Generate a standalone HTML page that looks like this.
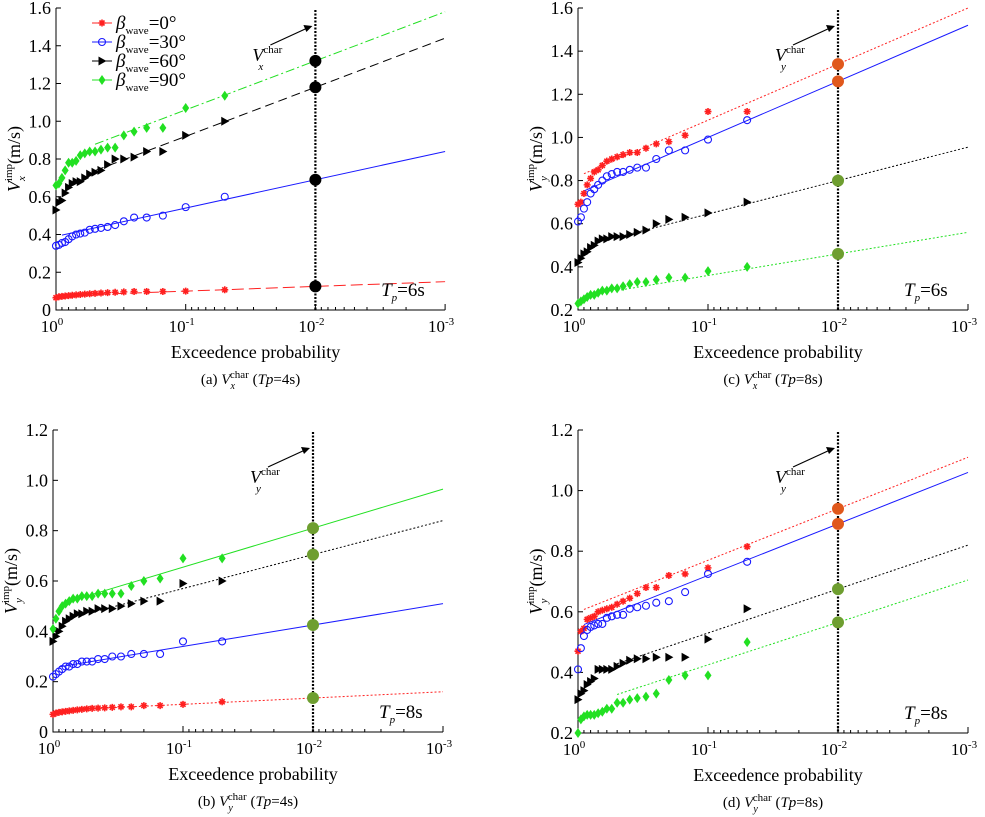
<!DOCTYPE html>
<html><head><meta charset="utf-8">
<style>
html,body{margin:0;padding:0;background:#fff;font-family:"Liberation Serif","DejaVu Serif",serif;}
svg{display:block;font-family:"Liberation Serif","DejaVu Serif",serif;}
svg text, svg tspan{font-family:"Liberation Serif","DejaVu Serif",serif !important;}
</style></head>
<body>
<svg id="fig" width="985" height="817" viewBox="0 0 985 817" xmlns="http://www.w3.org/2000/svg"></svg>
<script>
// ---- shared data ----
const probs = [1,0.95,0.9,0.85,0.8,0.75,0.7,0.65,0.6,0.55,0.5,0.45,0.4,0.35,0.3,0.25,0.2,0.15,0.1,0.05];
const seriesNames = ["beta-0","beta-30","beta-60","beta-90"];
const legendLabels = ["=0°","=30°","=60°","=90°"];
const xTickExp = [0,1,2,3];
const charProb = 0.01;
const fitStart = [0.9,0.9,0.5,0.5];

// panel (a) Vx, Tp=4s
const aRed   = [0.065,0.07,0.072,0.074,0.076,0.078,0.08,0.082,0.084,0.086,0.088,0.09,0.092,0.094,0.096,0.098,0.098,0.098,0.10,0.107];
const aBlue  = [0.34,0.345,0.355,0.36,0.375,0.39,0.40,0.405,0.41,0.425,0.43,0.435,0.44,0.45,0.47,0.49,0.49,0.50,0.545,0.60];
const aBlack = [0.53,0.57,0.58,0.62,0.65,0.67,0.68,0.68,0.70,0.72,0.73,0.74,0.77,0.80,0.80,0.81,0.84,0.84,0.925,1.0];
const aGreen = [0.66,0.67,0.70,0.74,0.78,0.78,0.79,0.82,0.83,0.84,0.84,0.85,0.86,0.86,0.925,0.945,0.965,0.965,1.07,1.135];
const aIntercept = [0.075,0.39,0.66,0.80];
const aSlope = [0.025,0.15,0.26,0.26];
const aYTicks = [0,0.2,0.4,0.6,0.8,1.0,1.2,1.4,1.6];

// panel (c)
const cRed   = [0.69,0.70,0.74,0.78,0.81,0.84,0.85,0.87,0.89,0.90,0.91,0.92,0.93,0.93,0.95,0.97,0.98,1.01,1.12,1.12];
const cBlue  = [0.61,0.63,0.67,0.70,0.74,0.76,0.78,0.80,0.82,0.83,0.84,0.84,0.85,0.86,0.86,0.90,0.94,0.94,0.99,1.08];
const cBlack = [0.42,0.44,0.46,0.47,0.49,0.50,0.52,0.53,0.53,0.54,0.54,0.54,0.55,0.56,0.57,0.60,0.62,0.63,0.65,0.70];
const cGreen = [0.23,0.24,0.25,0.26,0.27,0.27,0.28,0.29,0.29,0.30,0.30,0.31,0.32,0.33,0.33,0.34,0.35,0.35,0.38,0.40];
const cIntercept = [0.82,0.74,0.49,0.26];
const cSlope = [0.26,0.26,0.155,0.10];
const cYTicks = [0.2,0.4,0.6,0.8,1.0,1.2,1.4,1.6];

// panel (b)
const bRed   = [0.07,0.075,0.078,0.08,0.082,0.084,0.086,0.088,0.09,0.092,0.094,0.095,0.096,0.098,0.10,0.10,0.105,0.105,0.11,0.12];
const bBlue  = [0.22,0.23,0.24,0.25,0.26,0.26,0.27,0.27,0.28,0.28,0.28,0.29,0.29,0.30,0.30,0.31,0.31,0.31,0.36,0.36];
const bBlack = [0.36,0.38,0.40,0.42,0.44,0.45,0.46,0.47,0.47,0.48,0.48,0.49,0.49,0.49,0.50,0.51,0.52,0.52,0.59,0.60];
const bGreen = [0.41,0.45,0.48,0.50,0.51,0.52,0.53,0.53,0.54,0.54,0.54,0.55,0.55,0.55,0.55,0.58,0.60,0.61,0.69,0.69];
const bIntercept = [0.085,0.255,0.435,0.50];
const bSlope = [0.025,0.085,0.135,0.155];
const bYTicks = [0,0.2,0.4,0.6,0.8,1.0,1.2];

// panel (d)
const dRed   = [0.47,0.535,0.545,0.575,0.58,0.585,0.60,0.605,0.61,0.615,0.625,0.635,0.645,0.66,0.68,0.68,0.72,0.725,0.745,0.815];
const dBlue  = [0.41,0.48,0.52,0.54,0.55,0.555,0.56,0.56,0.58,0.585,0.59,0.59,0.61,0.615,0.62,0.63,0.635,0.665,0.725,0.765];
const dBlack = [0.31,0.33,0.34,0.36,0.37,0.38,0.41,0.41,0.41,0.41,0.42,0.43,0.44,0.445,0.445,0.45,0.45,0.45,0.51,0.61];
const dGreen = [0.20,0.245,0.255,0.26,0.26,0.26,0.265,0.27,0.28,0.28,0.30,0.30,0.31,0.315,0.32,0.33,0.375,0.39,0.39,0.50];
const dIntercept = [0.60,0.55,0.385,0.285];
const dSlope = [0.17,0.17,0.145,0.14];
const dYTicks = [0.2,0.4,0.6,0.8,1.0,1.2];

const NS = "http://www.w3.org/2000/svg";
const svg = document.getElementById("fig");
function mk(tag, attrs, parent){
  const e = document.createElementNS(NS, tag);
  for (const k in attrs) e.setAttribute(k, attrs[k]);
  if (tag==="text") e.setAttribute("font-family","'Liberation Serif', 'DejaVu Serif', serif");
  (parent||svg).appendChild(e);
  return e;
}
const colors = ["#ff2020","#1a1aff","#000000","#22e022"];
const ORANGE = "#e0581c", OLIVE = "#6e9e30";

function drawMarker(g, type, x, y, color){
  let m;
  if (type===0){
    m = mk("path",{d:`M${x-3.5},${y} H${x+3.5} M${x},${y-3.5} V${y+3.5} M${x-2.5},${y-2.5} L${x+2.5},${y+2.5} M${x-2.5},${y+2.5} L${x+2.5},${y-2.5}`,stroke:color,"stroke-width":1.6,fill:"none"},g);
  } else if (type===1){
    m = mk("circle",{cx:x,cy:y,r:3.5,fill:"none",stroke:color,"stroke-width":1.1},g);
  } else if (type===2){
    m = mk("polygon",{points:`${x-3.5},${y-4.5} ${x+4.5},${y} ${x-3.5},${y+4.5}`,fill:color},g);
  } else {
    m = mk("polygon",{points:`${x},${y-5} ${x+3.5},${y} ${x},${y+5} ${x-3.5},${y}`,fill:color},g);
  }
  
  
}

function panel(cfg){
  const g = mk("g",{});
  
  
  const {x0, dec, yTop, yBot, yMin, yMax} = cfg;
  const X = p => x0 + (-Math.log10(p))*dec;
  const Y = v => yBot - (v - yMin)/(yMax - yMin)*(yBot - yTop);
  const xEnd = x0 + 3*dec;
  const ax = mk("path",{d:`M${x0},${yTop} L${x0},${yBot} L${xEnd},${yBot}`,fill:"none",stroke:"#000","stroke-width":1},g);
   
  cfg.yTicks.forEach(v=>{
    const y = Y(v);
    mk("line",{x1:x0,y1:y,x2:x0+5,y2:y,stroke:"#000"},g);
    const t = mk("text",{x:x0-5,y:y+6,"text-anchor":"end","font-size":"18",fill:"#000"},g);
    t.textContent = v===0 ? "0" : v.toFixed(1);
     
  });
  xTickExp.forEach(e=>{
    const x = x0 + e*dec;
    mk("line",{x1:x,y1:yBot,x2:x,y2:yBot-6,stroke:"#000"},g);
    if (e<3){ for (let k=2;k<=9;k++){ const xm = x0 + (e + 1 - Math.log10(k))*dec; mk("line",{x1:xm,y1:yBot,x2:xm,y2:yBot-3,stroke:"#000"},g);} }
    const t = mk("text",{x:x-4,y:yBot+22,"text-anchor":"middle","font-size":"17",fill:"#000"},g);
    t.innerHTML = `10<tspan dy="-7" font-size="11">${e===0?"0":"-"+e}</tspan>`;
     
  });
  const xt = mk("text",{x:x0+1.5*dec+5,y:yBot+48,"text-anchor":"middle","font-size":"18",fill:"#000"},g);
  xt.textContent = "Exceedence probability";
   
  const yt = mk("text",{transform:`translate(${x0-36},${(yTop+yBot)/2}) rotate(-90)`,"text-anchor":"middle","font-size":"18",fill:"#000"},g);
  yt.innerHTML = `<tspan font-style="italic">V</tspan><tspan dy="5" font-size="11" font-style="italic">${cfg.comp}</tspan><tspan dx="-5" dy="-13" font-size="11">imp</tspan><tspan dy="8">(m/s)</tspan>`;
   
  cfg.series.forEach((vals,i)=>{
    const a = cfg.intercept[i], b = cfg.slope[i];
    const ps = fitStart[i];
    const l = mk("line",{x1:X(ps),y1:Y(a - b*Math.log10(ps)),x2:X(0.001),y2:Y(a+3*b),stroke:colors[i],"stroke-width":1,"stroke-dasharray":cfg.dash[i]},g);
     
  });
  cfg.series.forEach((vals,i)=>{
    vals.forEach((v,k)=>drawMarker(g,i,X(probs[k]),Y(v),colors[i]));
  });
  const vx = X(charProb);
  const vl = mk("line",{x1:vx,y1:yTop+2,x2:vx,y2:yBot,stroke:"#000","stroke-width":2.2,"stroke-dasharray":"2,1.5"},g);
   
  cfg.series.forEach((vals,i)=>{
    const c = mk("circle",{cx:vx,cy:Y(cfg.intercept[i]+2*cfg.slope[i]),r:6,fill:cfg.charColor[i]},g);
     
  });
  const lx = vx-63, ly = yTop+53;
  const an = mk("text",{x:lx,y:ly,"font-size":"18",fill:"#000"},g);
  an.innerHTML = `<tspan font-style="italic">V</tspan><tspan dy="-8" font-size="11">char</tspan><tspan dx="-24" dy="17" font-size="11" font-style="italic">${cfg.comp}</tspan>`;
   
  mk("line",{x1:vx-45,y1:yTop+37,x2:vx-8,y2:yTop+20,stroke:"#000","stroke-width":1.2},g);
  mk("polygon",{points:`${vx-3},${yTop+18} ${vx-12},${yTop+17} ${vx-9},${yTop+24}`,fill:"#000"},g);
  const tp = mk("text",{x:xEnd-64,y:yBot-14,"font-size":"19",fill:"#000"},g);
  tp.innerHTML = `<tspan font-style="italic">T</tspan><tspan dy="5" font-size="11" font-style="italic">p</tspan><tspan dy="-5">=${cfg.tp}</tspan>`;
   
  const cap = mk("text",{x:x0+1.5*dec,y:yBot+74,"text-anchor":"middle","font-size":"15",fill:"#000"},g);
  cap.innerHTML = `(${cfg.letter}) <tspan font-style="italic">V</tspan><tspan dy="5" font-size="10" font-style="italic">${cfg.capComp}</tspan><tspan dx="-5" dy="-11" font-size="11">char</tspan><tspan dy="6"> (</tspan><tspan font-style="italic">Tp</tspan>=${cfg.capTp})`;
   
  return {g, x0, yTop};
}

panel({name:"panel-a",letter:"a",x0:56,dec:129.7,yTop:8,yBot:310,yMin:0,yMax:1.6,yTicks:aYTicks,comp:"x",capComp:"x",capTp:"4s",tp:"6s",
  series:[aRed,aBlue,aBlack,aGreen],intercept:aIntercept,slope:aSlope,
  dash:["12,5","none","9,5","9,3,2,3"],charColor:["#000","#000","#000","#000"]});
panel({name:"panel-c",letter:"c",x0:578,dec:130,yTop:8,yBot:310,yMin:0.2,yMax:1.6,yTicks:cYTicks,comp:"y",capComp:"x",capTp:"8s",tp:"6s",
  series:[cRed,cBlue,cBlack,cGreen],intercept:cIntercept,slope:cSlope,
  dash:["2,2","none","2,2","2,2"],charColor:[ORANGE,ORANGE,OLIVE,OLIVE]});
panel({name:"panel-b",letter:"b",x0:53,dec:130,yTop:430,yBot:732,yMin:0,yMax:1.2,yTicks:bYTicks,comp:"y",capComp:"y",capTp:"4s",tp:"8s",
  series:[bRed,bBlue,bBlack,bGreen],intercept:bIntercept,slope:bSlope,
  dash:["2,2","none","2,2","none"],charColor:[OLIVE,OLIVE,OLIVE,OLIVE]});
panel({name:"panel-d",letter:"d",x0:578,dec:130,yTop:430,yBot:733,yMin:0.2,yMax:1.2,yTicks:dYTicks,comp:"y",capComp:"y",capTp:"8s",tp:"8s",
  series:[dRed,dBlue,dBlack,dGreen],intercept:dIntercept,slope:dSlope,
  dash:["2,2","none","2,2","2,2"],charColor:[ORANGE,ORANGE,OLIVE,OLIVE]});

const lg = mk("g",{});


legendLabels.forEach((lab,i)=>{
  const y = 23 + i*19;
  const ent = mk("g",{},lg);
  
  
  mk("line",{x1:92,y1:y,x2:112,y2:y,stroke:colors[i],"stroke-width":1},ent);
  drawMarker(ent,i,102,y,colors[i]);
  const t = mk("text",{x:116,y:y+6,"font-size":"19",fill:"#000"},ent);
  t.innerHTML = `<tspan font-style="italic">β</tspan><tspan dy="5" font-size="11">wave</tspan><tspan dy="-5">${lab}</tspan>`;
});
</script>
</body></html>
